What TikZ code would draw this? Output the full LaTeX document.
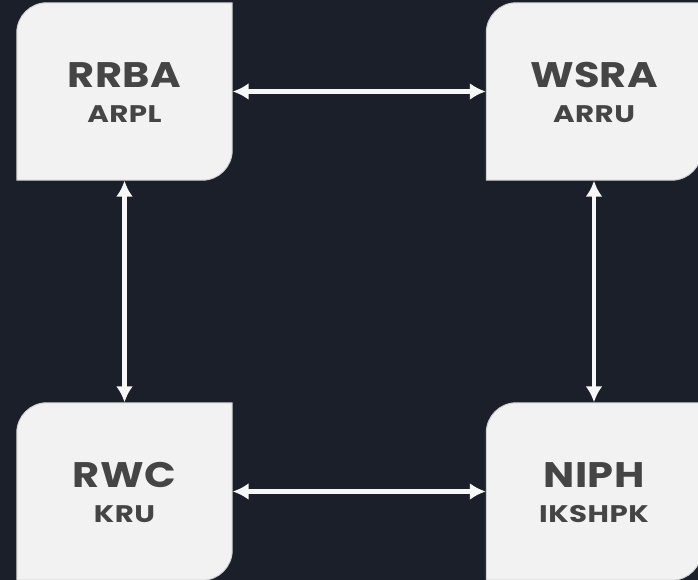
\documentclass[tikz,border=0pt]{standalone}
\usepackage{fontspec}
\setmainfont{Poppins}
\usetikzlibrary{arrows.meta}
\definecolor{bg}{HTML}{1B1F2A}
\definecolor{boxfill}{HTML}{F2F2F2}
\definecolor{boxline}{HTML}{D0D0D0}
\definecolor{txt}{HTML}{454545}
\definecolor{arrowc}{HTML}{F7F7F7}
\tikzset{
  boxnode/.style={minimum width=215pt, minimum height=177pt, inner sep=0pt, draw=none},
  boxshape/.style={fill=boxfill, draw=boxline, line width=1pt},
  titletext/.style={anchor=base, text=txt, font=\fontsize{35.5}{40}\selectfont\bfseries\addfontfeatures{FakeStretch=1.17,LetterSpace=1}, inner sep=0pt},
  subtext/.style={anchor=base, text=txt, font=\fontsize{24}{28}\selectfont\bfseries\addfontfeatures{FakeStretch=1.22,LetterSpace=2}, inner sep=0pt},
  link/.style={draw=arrowc, line width=4.5pt, {Latex[length=16pt,width=17pt]}-{Latex[length=16pt,width=17pt]}, shorten <=0.5pt, shorten >=0.5pt}
}
\begin{document}
\begin{tikzpicture}[x=1pt,y=1pt]
\fill[bg] (0,0) rectangle (698,580);
\useasboundingbox (0,0) rectangle (698,580);
\node[boxnode] (rrba) at (124.5,488.5) {};
\node[boxnode] (wsra) at (594,488.5) {};
\node[boxnode] (rwc) at (124.5,88.5) {};
\node[boxnode] (niph) at (594,88.5) {};
\foreach \n in {rrba,wsra,rwc,niph}{
  \draw[boxshape] ([yshift=-30pt]\n.north west) arc[start angle=180,end angle=90,radius=30pt]
    -- (\n.north east) -- ([yshift=30pt]\n.south east) arc[start angle=0,end angle=-90,radius=30pt]
    -- (\n.south west) -- cycle;
}
\node[titletext] (rrbaT) at ([yshift=3.5pt]rrba.center) {RRBA};
\node[subtext] (rrbaS) at ([yshift=-31.5pt]rrba.center) {ARPL};
\node[titletext] (wsraT) at ([yshift=3.5pt]wsra.center) {WSRA};
\node[subtext] (wsraS) at ([yshift=-31.5pt]wsra.center) {ARRU};
\node[titletext] (rwcT) at ([yshift=3.5pt]rwc.center) {RWC};
\node[subtext] (rwcS) at ([yshift=-31.5pt]rwc.center) {KRU};
\node[titletext] (niphT) at ([yshift=3.5pt]niph.center) {NIPH};
\node[subtext] (niphS) at ([yshift=-31.5pt]niph.center) {IKSHPK};
\draw[link] (rrba.east) -- (wsra.west);
\draw[link] (rwc.east) -- (niph.west);
\draw[link] (rrba.south) -- (rwc.north);
\draw[link] (wsra.south) -- (niph.north);
\end{tikzpicture}
\end{document}
